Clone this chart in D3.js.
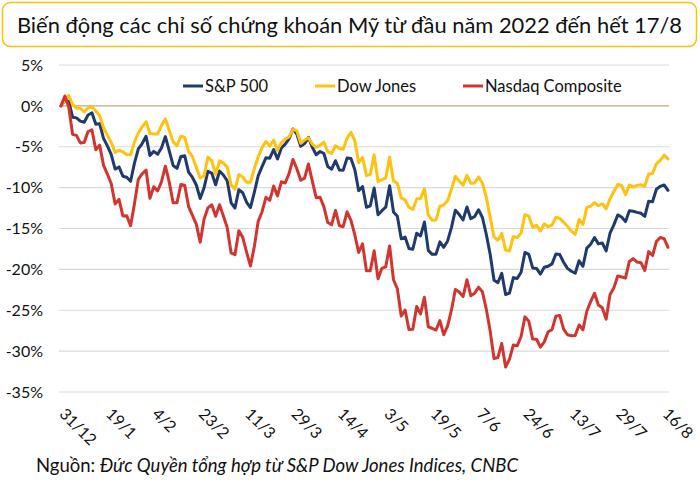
<!DOCTYPE html>
<html>
<head>
<meta charset="utf-8">
<script src="https://cdn.jsdelivr.net/npm/d3@7"></script>
<style>
  html, body { margin: 0; padding: 0; background: #fff; }
  svg { display: block; font-family: Lato, "Noto Sans", sans-serif; }
</style>
</head>
<body>
<svg id="chart" width="700" height="489"></svg>
<script>
// ---- Data (% change since 31/12/2021, one value per trading day, 31/12 .. 17/8) ----
const sp500 = [0,0.64,0.57,-1.38,-1.47,-1.87,-2.01,-1.11,-0.84,-2.25,-2.17,-3.97,-4.90,-5.95,-7.73,-7.47,-8.60,-8.73,-9.22,-7.01,
  -5.26,-4.61,-3.71,-6.06,-5.57,-5.92,-5.13,-3.76,-5.50,-7.29,-7.65,-6.19,-6.11,-8.10,-8.76,-9.68,-11.34,-10.02,-8.00,-8.23,
  -9.65,-7.97,-8.45,-9.18,-11.86,-12.49,-10.25,-10.63,-11.79,-12.44,-10.57,-8.57,-7.44,-6.36,-6.40,-5.34,-6.50,-5.16,-4.68,-4.00,
  -2.82,-3.44,-4.95,-4.62,-3.85,-5.06,-5.98,-5.58,-5.83,-7.42,-7.74,-6.71,-7.84,-7.86,-6.38,-6.44,-7.82,-10.37,-9.86,-12.40,
  -12.22,-10.04,-13.31,-12.82,-12.39,-9.78,-12.99,-13.49,-16.26,-16.05,-17.44,-17.54,-15.57,-15.91,-14.21,-17.68,-18.16,-18.14,-16.63,-17.30,
  -16.52,-14.86,-12.76,-13.30,-13.95,-12.37,-13.80,-13.53,-12.70,-13.65,-15.70,-18.16,-21.33,-21.63,-20.48,-23.07,-22.90,-21.01,-21.11,-20.36,
  -17.93,-18.17,-19.82,-19.88,-20.58,-19.74,-19.61,-19.33,-18.12,-18.19,-19.13,-19.88,-20.23,-20.47,-18.95,-19.62,-17.40,-16.92,-16.10,-16.88,
  -16.77,-17.73,-15.58,-14.56,-13.34,-13.59,-14.16,-12.82,-12.89,-13.03,-13.14,-13.51,-11.66,-11.73,-10.20,-9.84,-9.67,-10.33];

const dowJones = [0,0.68,1.27,0.19,-0.28,-0.29,-0.74,-0.24,-0.13,-0.62,-1.17,-2.67,-3.60,-4.47,-5.70,-5.43,-5.62,-5.97,-5.99,-4.44,
  -3.32,-2.57,-1.95,-3.38,-3.44,-3.43,-2.41,-1.57,-3.02,-4.40,-4.88,-3.71,-3.86,-5.58,-6.22,-7.54,-8.82,-8.57,-6.27,-6.73,
  -8.38,-6.73,-7.00,-7.49,-9.69,-10.20,-8.40,-8.71,-9.34,-9.34,-7.69,-6.26,-5.11,-4.36,-4.91,-4.21,-5.45,-4.49,-4.06,-3.80,
  -2.87,-3.05,-4.57,-4.18,-3.90,-4.67,-5.07,-4.83,-4.45,-5.59,-5.83,-4.88,-5.19,-5.30,-3.93,-3.24,-4.25,-6.95,-6.30,-8.53,
  -8.36,-5.99,-9.25,-9.02,-8.83,-6.27,-9.19,-9.46,-11.26,-11.50,-12.40,-12.68,-11.40,-11.32,-10.14,-13.34,-13.99,-13.97,-12.27,-12.14,
  -11.61,-10.19,-8.60,-9.21,-9.70,-8.50,-9.46,-9.42,-8.69,-9.43,-11.19,-13.61,-16.02,-16.44,-15.60,-17.64,-17.75,-15.98,-16.11,-15.58,
  -13.31,-13.48,-14.84,-14.61,-15.31,-14.42,-14.78,-14.59,-13.63,-13.76,-14.21,-14.74,-15.32,-15.71,-13.90,-14.49,-12.41,-12.28,-11.84,-12.22,
  -11.97,-12.59,-11.39,-10.48,-9.61,-9.74,-10.85,-9.70,-9.94,-9.73,-9.65,-9.81,-8.34,-8.26,-7.09,-6.68,-6.02,-6.49];

const nasdaq = [0,1.20,-0.14,-3.48,-3.61,-4.53,-4.49,-3.14,-2.92,-5.36,-4.80,-7.27,-8.34,-9.53,-11.99,-11.44,-13.46,-13.44,-14.65,-11.98,
  -8.98,-8.30,-7.85,-11.29,-9.89,-10.41,-9.27,-7.38,-9.33,-11.85,-11.85,-9.62,-9.72,-12.32,-13.40,-14.47,-16.67,-13.88,-12.47,-12.10,
  -13.50,-12.10,-13.47,-14.90,-17.99,-18.21,-15.27,-16.08,-17.90,-19.58,-17.23,-14.12,-12.98,-11.19,-11.55,-9.82,-11.01,-9.29,-9.43,-8.25,
  -6.55,-7.69,-9.10,-8.84,-7.11,-9.21,-11.23,-11.17,-12.36,-14.27,-14.53,-12.79,-14.66,-14.78,-12.95,-14.01,-15.79,-17.93,-16.88,-20.16,
  -20.17,-17.73,-21.16,-19.87,-19.69,-17.13,-21.27,-22.37,-25.71,-24.97,-27.36,-27.32,-24.54,-25.45,-23.40,-27.02,-27.21,-27.42,-26.27,-28.00,
  -26.91,-24.96,-22.46,-22.78,-23.33,-21.27,-23.22,-22.91,-22.18,-22.75,-24.87,-27.52,-30.91,-30.79,-29.06,-31.95,-30.98,-29.25,-29.35,-28.21,
  -25.81,-26.34,-28.53,-28.55,-29.51,-28.87,-27.63,-27.38,-25.72,-25.63,-27.31,-28.00,-28.11,-28.08,-26.80,-27.39,-25.13,-23.95,-22.92,-24.36,
  -24.69,-26.09,-23.09,-22.26,-20.80,-20.94,-21.07,-19.03,-18.69,-19.10,-19.18,-20.14,-17.83,-18.31,-16.60,-16.09,-16.25,-17.30];

const tickIndex  = [0, 12, 24, 36, 48, 60, 72, 84, 96, 108, 120, 132, 144, 156];
const tickLabels = ["31/12","19/1","4/2","23/2","11/3","29/3","14/4","3/5","19/5","7/6","24/6","13/7","29/7","16/8"];
const yTicks = [5, 0, -5, -10, -15, -20, -25, -30, -35];

const seriesNames  = ["S&P 500", "Dow Jones", "Nasdaq Composite"];
const seriesColors = ["#1f3a6e", "#ffc20e", "#d23530"];
const seriesData   = [sp500, dowJones, nasdaq];

const titleText = "Biến động các chỉ số chứng khoán Mỹ từ đầu năm 2022 đến hết 17/8";
const sourceLabel = "Nguồn: ";
const sourceText = "Đức Quyền tổng hợp từ S&P Dow Jones Indices, CNBC";

// ---- Drawing ----
const svg = d3.select("#chart");
const x = d3.scaleLinear().domain([0, sp500.length - 1]).range([61, 668]);
const y = d3.scaleLinear().domain([-35, 5]).range([392, 65]);
const gridX0 = 59, gridX1 = 669;

// Title box
svg.append("rect")
  .attr("x", 2.5).attr("y", 2.5).attr("width", 694).attr("height", 44)
  .attr("rx", 8).attr("ry", 8)
  .attr("fill", "#fff").attr("stroke", "#ffc000").attr("stroke-width", 1.5);
svg.append("text")
  .attr("x", 349.5).attr("y", 32.5)
  .attr("text-anchor", "middle")
  .attr("font-size", 21.9)
  .attr("fill", "#111")
  .text(titleText);

// Gridlines
svg.append("g").selectAll("line")
  .data(yTicks.filter(d => d !== 0))
  .join("line")
  .attr("x1", gridX0).attr("x2", gridX1)
  .attr("y1", d => y(d)).attr("y2", d => y(d))
  .attr("stroke", "#d9d9d9").attr("stroke-width", 1.2);

// Y axis labels
const yAxis = svg.append("g")
  .attr("transform", `translate(${gridX0},0)`)
  .call(d3.axisLeft(y).tickValues(yTicks).tickFormat(d => `${d}%`).tickSize(0).tickPadding(16));
yAxis.select(".domain").remove();
yAxis.selectAll("text").attr("font-size", 16).attr("font-family", "Lato, sans-serif").attr("fill", "#111");

// Zero line
svg.append("line")
  .attr("x1", gridX0).attr("x2", gridX1)
  .attr("y1", y(0)).attr("y2", y(0))
  .attr("stroke", "#bfa97a").attr("stroke-width", 1.2);

// X axis labels
const xAxis = svg.append("g")
  .attr("transform", `translate(0,${y(-35)})`)
  .call(d3.axisBottom(x).tickValues(tickIndex).tickFormat((d, i) => tickLabels[i]).tickSize(0));
xAxis.select(".domain").remove();
xAxis.selectAll("text")
  .attr("font-size", 16).attr("font-family", "Lato, sans-serif").attr("fill", "#111")
  .attr("text-anchor", "start")
  .attr("dy", null).attr("y", null)
  .attr("transform", "translate(-3,23) rotate(45)");

// Lines
const line = d3.line().x((d, i) => x(i)).y(d => y(d));
svg.append("g").selectAll("path")
  .data(seriesData)
  .join("path")
  .attr("d", d => line(d))
  .attr("fill", "none")
  .attr("stroke", (d, i) => seriesColors[i])
  .attr("stroke-width", 3)
  .attr("stroke-linejoin", "round")
  .attr("stroke-linecap", "round");

// Legend
const legendX = [183, 315, 463];
const legend = svg.append("g").selectAll("g")
  .data(seriesNames)
  .join("g")
  .attr("transform", (d, i) => `translate(${legendX[i]},86)`);
legend.append("line")
  .attr("x1", 0).attr("x2", 20).attr("y1", 0).attr("y2", 0)
  .attr("stroke", (d, i) => seriesColors[i]).attr("stroke-width", 3);
legend.append("text")
  .attr("x", 22).attr("y", 6)
  .attr("font-size", 16.5).attr("fill", "#111")
  .text(d => d);

// Source
const src = svg.append("text").attr("x", 36).attr("y", 472).attr("font-size", 18.5).attr("fill", "#111");
src.append("tspan").text(sourceLabel);
src.append("tspan").attr("font-style", "italic").text(sourceText);
</script>
</body>
</html>
